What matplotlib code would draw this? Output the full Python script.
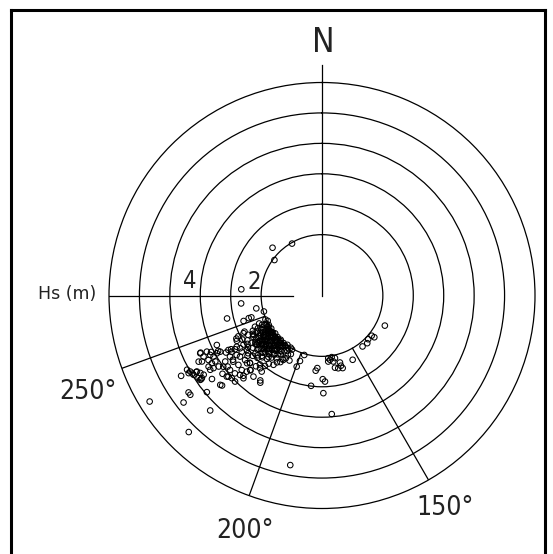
import numpy as np
import matplotlib
matplotlib.use("Agg")
import matplotlib.pyplot as plt
from matplotlib.lines import Line2D

# wave direction (deg, coming from) and significant wave height Hs (m)
dir_deg = [
    # scattered points north-west of the core
    330, 314, 306.7, 274.4, 264.4, 258.9, 254.6, 256.4, 252.0, 252.8, 252.8,
    # south / south-east group
    115.6, 129, 128.6, 133.4, 136.5, 141.5, 154.5, 174.3, 172.9, 171.1, 170.3,
    168.3, 174.6, 165, 164.9, 167.4, 164.1, 169.8, 183.7, 184.8, 179.5, 178,
    186.9, 179.2, 175.3, 196.6, 198.6, 199.6, 206.6, 211, 190.6,
    # far south-west outliers
    238.4, 234, 233, 232.3, 230, 224.2, 224.3, 240.3, 228, 235.3, 232.8,
    # west-south-west cluster
    241.2, 240, 239.8, 238.3, 238.7, 237.5, 236.2, 235.5, 236.2, 241.8, 241.2,
    244.6, 242.7, 244, 240.4, 242, 238.4, 240.6, 238.3, 241.2, 236.4, 236.2,
    237.9, 235.5, 244.8, 241.1, 228.7, 235.7, 229.1, 244.8, 243, 241.9, 238.9,
    235.3, 238.7, 239.3, 239.4, 243.3, 244.3, 234.2, 233, 231.8, 224.4, 223.7,
    227.9,
    # middle band
    239.8, 238.1, 238.3, 236.4, 235.1, 233.3, 233.3, 230.3, 227.1, 231, 228.2,
    225.9, 224.7, 224, 234.2, 229.6, 227.5, 225.3, 223.5, 237.2, 234.1, 230,
    226.7, 215.3, 216, 220.2, 220.4, 218.4,
    # dense core
    209, 211, 213, 215, 217, 219, 221, 223, 225, 227, 229, 231, 233, 235, 237,
    239, 241, 243, 245, 247,
    208, 210, 212, 214, 216, 218, 220, 222, 224, 226, 228, 230, 232, 234, 236,
    238, 240, 242, 244, 246,
    210, 212, 215, 217, 219, 221, 223, 225, 227, 229, 231, 233, 235, 237, 239,
    241, 243, 245,
    212, 214, 216, 219, 221, 223, 225, 227, 229, 231, 233, 235, 237, 239, 241,
    243,
    215, 218, 221, 224, 227, 230, 233, 236, 239, 242, 245,
    219, 222, 226, 229, 232, 235, 238, 241, 244,
    223, 227, 231, 235, 239, 242,
    218, 220, 222, 224, 226, 228, 230, 232, 234, 236, 238,
    220, 222, 224, 226, 228, 230, 232, 234, 236,
    224, 226, 228, 230, 232, 234,
    226, 230, 234,
    216, 219, 222, 225, 228, 231, 234, 237, 240, 243,
    217, 220, 223, 226, 229, 232, 235, 238, 241,
    219, 222, 225, 228, 231, 234, 237, 240,
    225, 229, 233, 237,
]
hs_m = [
    1.97, 2.26, 1.95, 2.66, 2.67, 2.2, 1.98, 3.21, 2.71, 2.52, 2.43,
    2.29, 2.1, 2.2, 2.09, 2.16, 2.14, 2.34, 2.07, 2.13, 2.05, 2.2,
    2.1, 2.18, 2.28, 2.39, 2.45, 2.48, 2.41, 2.39, 2.48, 2.75, 2.83,
    2.99, 3.21, 3.91, 2.04, 2.27, 2.48, 2.39, 2.47, 5.67,
    6.65, 5.42, 5.42, 5.75, 4.94, 5.27, 6.27, 5.33, 4.42, 4.87, 4.54,
    5.06, 5.0, 5.07, 4.96, 4.81, 4.74, 4.88, 4.79, 4.68, 4.6, 4.5,
    4.43, 4.38, 4.21, 4.29, 4.16, 4.25, 4.09, 4.12, 3.94, 4.41, 4.29,
    4.4, 4.12, 3.82, 3.82, 4.45, 3.85, 4.07, 4.41, 4.09, 3.87, 4.97,
    4.83, 4.84, 3.67, 3.47, 3.15, 2.86, 3.61, 3.88, 4.16, 3.69, 3.4,
    3.32,
    3.56, 3.5, 3.36, 3.63, 3.42, 3.36, 3.64, 3.57, 3.6, 3.89, 3.84,
    3.75, 3.52, 3.4, 4.0, 4.11, 4.02, 4.02, 3.75, 3.2, 3.05, 3.3,
    3.25, 3.51, 3.45, 3.49, 3.14, 3.19,
    2.03, 2.0, 2.06, 1.98, 2.04, 2.01, 2.07, 1.99, 2.03, 2.0, 2.05, 1.98, 2.02,
    2.06, 1.99, 2.03, 2.0, 2.05, 1.97, 2.02,
    2.18, 2.24, 2.15, 2.21, 2.27, 2.16, 2.23, 2.19, 2.26, 2.14, 2.22, 2.18, 2.25,
    2.15, 2.21, 2.28, 2.17, 2.23, 2.19, 2.26,
    2.38, 2.45, 2.36, 2.42, 2.48, 2.35, 2.41, 2.47, 2.37, 2.44, 2.39, 2.46, 2.35,
    2.42, 2.38, 2.45, 2.36, 2.43,
    2.58, 2.65, 2.55, 2.62, 2.68, 2.56, 2.63, 2.59, 2.66, 2.54, 2.61, 2.67, 2.57,
    2.64, 2.6, 2.55,
    2.78, 2.84, 2.76, 2.82, 2.88, 2.77, 2.85, 2.79, 2.86, 2.75, 2.81,
    2.98, 3.05, 2.95, 3.02, 3.08, 2.97, 3.04, 2.99, 3.06,
    3.18, 3.24, 3.15, 3.22, 3.27, 3.17,
    2.1, 2.12, 2.08, 2.11, 2.09, 2.13, 2.1, 2.12, 2.08, 2.11, 2.09,
    2.31, 2.33, 2.3, 2.32, 2.29, 2.31, 2.33, 2.3, 2.32,
    2.52, 2.5, 2.53, 2.51, 2.49, 2.52,
    2.71, 2.72, 2.7,
    2.05, 2.14, 2.02, 2.16, 2.06, 2.15, 2.04, 2.13, 2.07, 2.12,
    2.27, 2.37, 2.26, 2.39, 2.28, 2.4, 2.25, 2.36, 2.29,
    2.5, 2.6, 2.48, 2.62, 2.52, 2.58, 2.47, 2.6,
    2.8, 2.9, 2.7, 2.92,
]

ring_hs = [2, 3, 4, 5, 6]
hs_max = 7
spoke_deg = [150, 200, 250]
spoke_labels = ["150°", "200°", "250°"]

W, H = 553, 554
fig = plt.figure(figsize=(W / 100, H / 100), dpi=100)
fig.patch.set_facecolor("white")

def fx(px):
    return px / W

def fy(py):
    return 1 - py / H

# thin condensed lettering, like the plotter font of the original
lab_font = dict(family="DejaVu Sans", fontstretch="condensed", color="#222222")

# polar axes, north up, clockwise
ax = fig.add_axes([fx(109), fy(508.5), 426 / W, 426 / H], projection="polar")
ax.set_theta_zero_location("N")
ax.set_theta_direction(-1)
ax.set_ylim(0, hs_max)
ax.set_xticks([])
ax.set_yticks(ring_hs)
ax.set_yticklabels([])
ax.yaxis.grid(True, color="black", lw=0.9)
ax.spines["polar"].set_linewidth(0.9)
ax.set_facecolor("none")

# direction spokes
for d in spoke_deg:
    ax.plot([np.radians(d)] * 2, [ring_hs[0], hs_max], color="black", lw=0.9)

# north line and Hs axis
ax.plot([0, 0], [0, 7.57], color="black", lw=0.9, clip_on=False)
ax.plot([np.radians(270)] * 2, [0.96, hs_max], color="black", lw=0.9)

ax.scatter(np.radians(dir_deg), hs_m, s=16, facecolors="none",
           edgecolors="black", linewidths=0.75, zorder=3, clip_on=False)

# texts
fig.text(fx(322.8), fy(51.7), "N", fontsize=24, ha="center", va="baseline",
         **lab_font)
fig.text(fx(67), fy(299), "Hs (m)", fontsize=12.5, ha="center",
         va="baseline", family="DejaVu Sans", color="#222222")
fig.text(fx(254), fy(289.3), "2", fontsize=17, ha="center", va="baseline",
         **lab_font)
fig.text(fx(190), fy(288.3), "4", fontsize=17, ha="center", va="baseline",
         **lab_font)
label_pos = [(445, 515), (245, 538.3), (88, 398.6)]
for lab, (px, py) in zip(spoke_labels, label_pos):
    fig.text(fx(px), fy(py), lab, fontsize=19, ha="center", va="baseline",
             **lab_font)

# frame (open at the bottom)
for xs, ys in [([10.5, 10.5], [10, 560]), ([10.5, 545], [10, 10]),
               ([545, 545], [10, 560])]:
    fig.add_artist(Line2D([fx(x) for x in xs], [fy(y) for y in ys],
                          color="black", lw=2.2))

fig.savefig("out.png", dpi=100)
